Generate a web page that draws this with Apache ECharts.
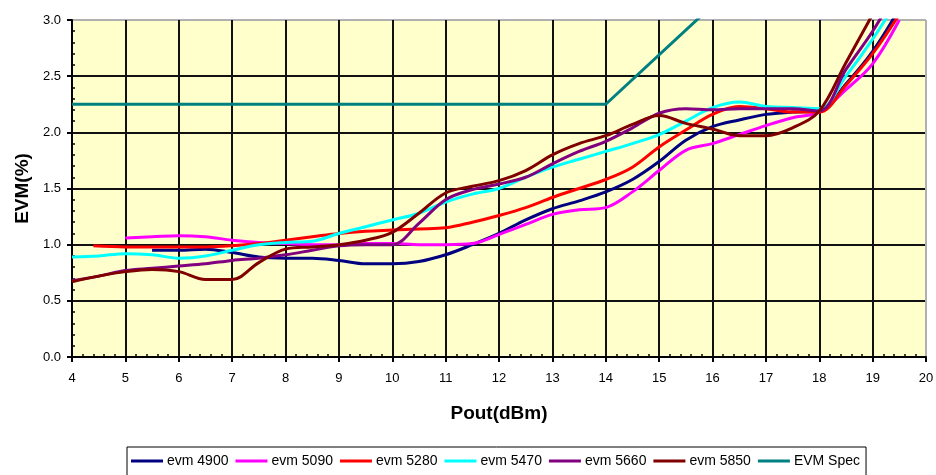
<!DOCTYPE html>
<html>
<head>
<meta charset="utf-8">
<title>EVM vs Pout</title>
<script src="https://cdn.jsdelivr.net/npm/echarts@6/dist/echarts.min.js"></script>
<style>
  html, body { margin: 0; padding: 0; background: #ffffff; }
  #chart { width: 936px; height: 475px; }
</style>
</head>
<body>
<div id="chart"></div>
<script>
// Measured EVM (%) against output power (dBm) per channel frequency
const pout4900 = [5.5, 6, 6.5, 7, 7.5, 8, 8.5, 9, 9.5, 10, 10.5, 11, 11.5, 12, 12.5, 13, 13.5, 14, 14.5, 15, 15.5, 16, 16.5, 17, 17.5, 18, 18.5, 19, 19.5];
const evm4900  = [0.95, 0.95, 0.96, 0.93, 0.89, 0.88, 0.88, 0.86, 0.83, 0.83, 0.85, 0.91, 1.0, 1.1, 1.22, 1.32, 1.39, 1.47, 1.58, 1.74, 1.93, 2.05, 2.11, 2.16, 2.18, 2.19, 2.43, 2.72, 3.1];

const pout5090 = [5, 5.5, 6, 6.5, 7, 7.5, 8, 8.5, 9, 9.5, 10, 10.5, 11, 11.5, 12, 12.5, 13, 13.5, 14, 14.5, 15, 15.5, 16, 16.5, 17, 17.5, 18, 18.5, 19, 19.5];
const evm5090  = [1.06, 1.07, 1.08, 1.07, 1.04, 1.02, 1.01, 1.0, 1.0, 1.01, 1.01, 1.0, 1.0, 1.01, 1.09, 1.18, 1.27, 1.31, 1.33, 1.47, 1.66, 1.84, 1.9, 1.98, 2.06, 2.13, 2.18, 2.38, 2.61, 3.0];

const pout5280 = [4.4, 5, 5.5, 6, 6.5, 7, 7.5, 8, 8.5, 9, 9.5, 10, 10.5, 11, 11.5, 12, 12.5, 13, 13.5, 14, 14.5, 15, 15.5, 16, 16.5, 17, 17.5, 18, 18.5, 19, 19.5];
const evm5280  = [0.99, 0.98, 0.98, 0.98, 0.98, 0.99, 1.01, 1.04, 1.07, 1.1, 1.12, 1.13, 1.14, 1.15, 1.2, 1.26, 1.33, 1.42, 1.5, 1.58, 1.69, 1.87, 2.02, 2.16, 2.23, 2.21, 2.18, 2.18, 2.42, 2.7, 3.05];

const pout5470 = [4, 4.5, 5, 5.5, 6, 6.5, 7, 7.5, 8, 8.5, 9, 9.5, 10, 10.5, 11, 11.5, 12, 12.5, 13, 13.5, 14, 14.5, 15, 15.5, 16, 16.5, 17, 17.5, 18, 18.5, 19, 19.5];
const evm5470  = [0.89, 0.9, 0.92, 0.91, 0.88, 0.9, 0.95, 1.0, 1.02, 1.03, 1.1, 1.16, 1.22, 1.28, 1.38, 1.45, 1.5, 1.6, 1.69, 1.76, 1.83, 1.9, 1.98, 2.1, 2.22, 2.27, 2.23, 2.22, 2.21, 2.5, 2.83, 3.2];

const pout5660 = [4, 4.5, 5, 5.5, 6, 6.5, 7, 7.5, 8, 8.5, 9, 9.5, 10, 10.5, 11, 11.5, 12, 12.5, 13, 13.5, 14, 14.5, 15, 15.5, 16, 16.5, 17, 17.5, 18, 18.5, 19, 19.5];
const evm5660  = [0.68, 0.72, 0.77, 0.79, 0.81, 0.83, 0.86, 0.88, 0.91, 0.95, 0.99, 1.0, 1.0, 1.19, 1.4, 1.49, 1.54, 1.6, 1.72, 1.83, 1.92, 2.04, 2.17, 2.21, 2.2, 2.21, 2.21, 2.21, 2.19, 2.56, 2.9, 3.3];

const pout5850 = [4, 4.5, 5, 5.5, 6, 6.5, 7, 7.5, 8, 8.5, 9, 9.5, 10, 10.5, 11, 11.5, 12, 12.5, 13, 13.5, 14, 14.5, 15, 15.5, 16, 16.5, 17, 17.5, 18, 18.5, 19];
const evm5850  = [0.67, 0.72, 0.76, 0.78, 0.76, 0.69, 0.69, 0.84, 0.96, 0.98, 1.0, 1.04, 1.11, 1.28, 1.46, 1.52, 1.57, 1.66, 1.8, 1.9, 1.97, 2.07, 2.15, 2.08, 2.03, 1.97, 1.97, 2.04, 2.19, 2.62, 3.05];

// Spec limit: flat, then rising above 14 dBm
const poutSpec = [4, 14, 16];
const evmSpec  = [2.25, 2.25, 3.13];

const seriesNames = ['evm 4900', 'evm 5090', 'evm 5280', 'evm 5470', 'evm 5660', 'evm 5850', 'EVM Spec'];
const seriesColors = ['#000080', '#ff00ff', '#ff0000', '#00ffff', '#800080', '#800000', '#008080'];
const seriesPout = [pout4900, pout5090, pout5280, pout5470, pout5660, pout5850, poutSpec];
const seriesEvm  = [evm4900, evm5090, evm5280, evm5470, evm5660, evm5850, evmSpec];

const xTicks = [];
for (let v = 4; v <= 20; v++) xTicks.push(v);
const yTicks = [0, 0.5, 1, 1.5, 2, 2.5, 3];

const FONT = '"Liberation Sans", Arial, sans-serif';

// split lines are black, except the outer plot border which is grey
const xGridColors = xTicks.map((v, i) => (i === xTicks.length - 1 ? '#b0b0b0' : '#111111'));
const yGridColors = yTicks.map((v, i) => (i === yTicks.length - 1 ? '#b0b0b0' : '#111111'));

const chart = echarts.init(document.getElementById('chart'), null, { renderer: 'canvas' });

const series = seriesNames.map((name, i) => ({
  name: name,
  type: 'line',
  xAxisIndex: 0,
  yAxisIndex: 0,
  data: seriesPout[i].map((x, j) => [x, seriesEvm[i][j]]),
  smooth: i === seriesNames.length - 1 ? false : 0.35,
  showSymbol: false,
  symbol: 'none',
  clip: true,
  lineStyle: { color: seriesColors[i], width: 3 },
  itemStyle: { color: seriesColors[i] },
  emphasis: { disabled: true },
  animation: false
}));

chart.setOption({
  animation: false,
  backgroundColor: '#ffffff',
  grid: {
    left: 72, right: 10, top: 20, bottom: 118,
    containLabel: false,
    outerBoundsMode: 'none',
    show: true,
    backgroundColor: '#ffffcc',
    borderWidth: 0
  },
  legend: {
    data: seriesNames,
    left: 127,
    top: 447,
    icon: 'rect',
    itemWidth: 32,
    itemHeight: 3,
    itemGap: 7,
    padding: [7, 6, 14, 4],
    borderColor: '#000000',
    borderWidth: 1,
    textStyle: { color: '#000000', fontSize: 14, fontFamily: FONT, padding: [0, 0, 0, -1] },
    selectedMode: false
  },
  xAxis: [{
    type: 'value',
    min: 4, max: 20, interval: 1,
    name: 'Pout(dBm)',
    nameLocation: 'middle',
    nameGap: 47,
    nameTextStyle: { color: '#000000', fontSize: 19, fontWeight: 'bold', fontFamily: FONT },
    axisLine: { show: true, onZero: false, lineStyle: { color: '#000000', width: 2 } },
    axisTick: { show: true, length: 5, lineStyle: { color: '#000000', width: 2 } },
    axisLabel: { color: '#000000', fontSize: 13, fontFamily: FONT, margin: 15 },
    splitLine: { show: true, lineStyle: { color: xGridColors, width: 2 } }
  }, {
    type: 'value',
    min: 4, max: 20, interval: 1,
    position: 'bottom',
    axisLine: { show: false },
    axisTick: { show: false, inside: true },
    minorTick: { show: true, splitNumber: 5, length: 3, lineStyle: { color: '#000000', width: 1.5 } },
    axisLabel: { show: false },
    splitLine: { show: false }
  }],
  yAxis: [{
    type: 'value',
    min: 0, max: 3, interval: 0.5,
    name: 'EVM(%)',
    nameLocation: 'middle',
    nameGap: 39,
    nameTextStyle: { color: '#000000', fontSize: 19, fontWeight: 'bold', fontFamily: FONT },
    axisLine: { show: true, onZero: false, lineStyle: { color: '#000000', width: 2 } },
    axisTick: { show: true, length: 5, lineStyle: { color: '#000000', width: 2 } },
    axisLabel: { color: '#000000', fontSize: 13, fontFamily: FONT, margin: 11, formatter: v => v.toFixed(1) },
    splitLine: { show: true, lineStyle: { color: yGridColors, width: 2 } }
  }, {
    type: 'value',
    min: 0, max: 3, interval: 0.5,
    position: 'left',
    axisLine: { show: false },
    axisTick: { show: false, inside: true },
    minorTick: { show: true, splitNumber: 5, length: 3, lineStyle: { color: '#000000', width: 1.5 } },
    axisLabel: { show: false },
    splitLine: { show: false }
  }],
  series: series
});

// right-hand plot border in grey
chart.setOption({
  graphic: [{
    type: 'line',
    shape: { x1: 926, y1: 20, x2: 926, y2: 357 },
    style: { stroke: '#b0b0b0', lineWidth: 2 },
    silent: true
  }]
});
</script>
</body>
</html>
